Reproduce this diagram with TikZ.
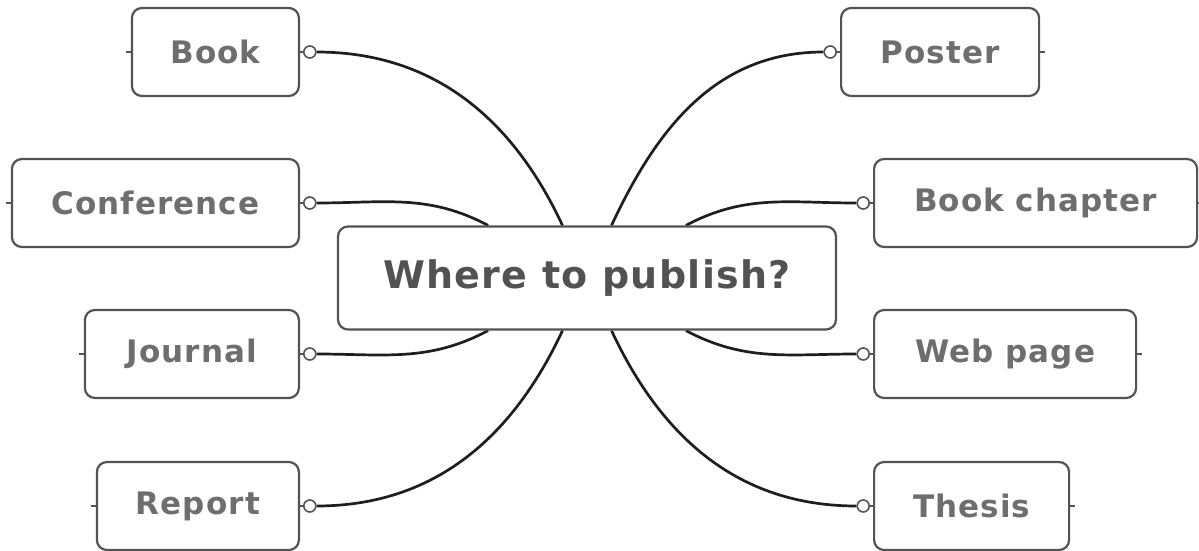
\documentclass[tikz,border=0pt]{standalone}
\usepackage{fontspec}
\setmainfont{DejaVu Sans}[LetterSpace=3.5]
\usetikzlibrary{positioning, backgrounds}
\definecolor{boxgray}{HTML}{535353}
\definecolor{textgray}{HTML}{6E6E6E}
\definecolor{hubgray}{HTML}{525252}
\definecolor{linkblack}{HTML}{1E1E1E}

\tikzset{
  topic/.style={draw=boxgray, line width=1.1pt, fill=white, rounded corners=5pt,
                minimum height=44pt, inner sep=0pt, text=textgray,
                font=\fontsize{15.5}{18}\selectfont\bfseries},
  hub/.style={topic, minimum height=51.5pt, minimum width=249pt, text=hubgray,
              font=\fontsize{19}{22}\selectfont\bfseries},
  port/.style={circle, draw=boxgray, line width=0.8pt, fill=white,
               minimum size=6pt, inner sep=0pt},
  stub/.style={draw=boxgray, line width=0.8pt},
  link/.style={draw=linkblack, line width=1.35pt},
}

\begin{document}
\begin{tikzpicture}[x=0.5pt, y=0.5pt]
  \useasboundingbox (0,0) rectangle (1199,-551);
  \node[hub] (hub) at (587,-278) {Where to publish?};
  % left branches
  \foreach \name/\txt/\y/\w/\ang in {book/Book/52/167/115, conf/Conference/203/287/152,
      journal/Journal/354/214/208, report/Report/506/202/245}{
    \node[topic, anchor=east, minimum width=\w*0.5pt] (\name) at (300,-\y) {\txt};
    \node[port, right=1.5pt of \name] (\name-port) {};
    \coordinate[left=2.5pt of \name] (\name-tick);
    \draw[stub] (\name.east) -- (\name-port) (\name.west) -- (\name-tick);
    \begin{scope}[on background layer]
      \draw[link] (\name-port) to[out=0, in=\ang] (hub);
    \end{scope}
  }
  % right branches
  \foreach \name/\txt/\x/\y/\w/\ang in {poster/Poster/840/52/198/65, chapter/Book chapter/873/203/323/28,
      web/Web page/873/354/262/-28, thesis/Thesis/873/506/195/-65}{
    \node[topic, anchor=west, minimum width=\w*0.5pt] (\name) at (\x,-\y) {\txt};
    \node[port, left=1.5pt of \name] (\name-port) {};
    \coordinate[right=2.5pt of \name] (\name-tick);
    \draw[stub] (\name.west) -- (\name-port) (\name.east) -- (\name-tick);
    \begin{scope}[on background layer]
      \draw[link] (\name-port) to[out=180, in=\ang] (hub);
    \end{scope}
  }
\end{tikzpicture}
\end{document}
